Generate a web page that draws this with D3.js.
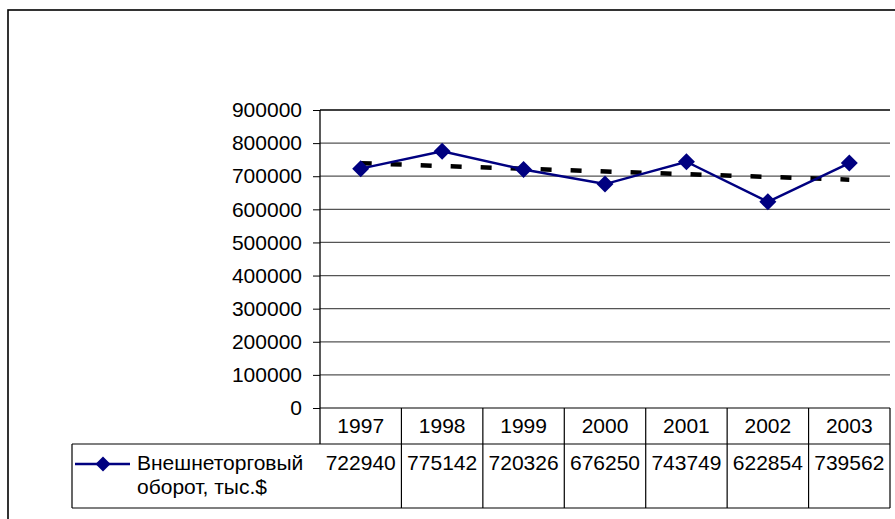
<!DOCTYPE html>
<html>
<head>
<meta charset="utf-8">
<script src="https://cdn.jsdelivr.net/npm/d3@7"></script>
<style>
  body { margin: 0; background: #fff; }
  svg text { font-family: Arial, "Liberation Sans", sans-serif; fill: #000; }
</style>
</head>
<body>
<svg id="chart" width="895" height="519"></svg>
<script>
// data
var years = ["1997", "1998", "1999", "2000", "2001", "2002", "2003"];
var values = [722940, 775142, 720326, 676250, 743749, 622854, 739562];
var seriesName = ["Внешнеторговый", "оборот, тыс.$"];
var yTicks = [0, 100000, 200000, 300000, 400000, 500000, 600000, 700000, 800000, 900000];
// linear trend, read at first and last year
var trend = [739200, 689600];

var svg = d3.select("#chart");
var fontSize = 21;

var plotLeft = 320, plotRight = 890, plotTop = 110, plotBottom = 408;
var rowH1 = 444, rowH2 = 508, legendLeft = 72;

var x = d3.scaleBand().domain(years).range([plotLeft, plotRight]);
var y = d3.scaleLinear().domain([0, 900000]).range([plotBottom, plotTop]);

// outer frame
svg.append("rect")
  .attr("x", 8).attr("y", 10)
  .attr("width", 920).attr("height", 540)
  .style("fill", "none").style("stroke", "#000").style("stroke-width", 1.6);

// gridlines
svg.append("g")
  .selectAll("line")
  .data(yTicks.slice(1))
  .enter().append("line")
    .attr("x1", plotLeft).attr("x2", plotRight)
    .attr("y1", function(d) { return y(d); })
    .attr("y2", function(d) { return y(d); })
    .style("stroke", function(d) { return d === 900000 ? "#000" : "#555"; })
    .style("stroke-width", function(d) { return d === 900000 ? 1.4 : 1.2; });

// y axis
var yAxis = svg.append("g")
  .attr("transform", "translate(" + plotLeft + ",0)")
  .call(d3.axisLeft(y).tickValues(yTicks).tickFormat(d3.format("d")).tickSize(7).tickPadding(11));
yAxis.select(".domain").attr("d", "M0," + y(900000) + "V" + rowH1).style("stroke", "#000").style("stroke-width", 1.3);
yAxis.selectAll(".tick line").style("stroke", "#000");
yAxis.selectAll(".tick text")
  .style("font-size", fontSize + "px")
  .style("font-family", "Arial, 'Liberation Sans', sans-serif")
  .attr("fill", "#000");

// data table
var table = svg.append("g").style("stroke", "#000").style("stroke-width", 1.2);
table.append("line").attr("x1", plotLeft).attr("x2", plotRight).attr("y1", plotBottom).attr("y2", plotBottom);
table.append("line").attr("x1", legendLeft).attr("x2", plotRight).attr("y1", rowH1).attr("y2", rowH1);
table.append("line").attr("x1", legendLeft).attr("x2", plotRight).attr("y1", rowH2).attr("y2", rowH2);
table.append("line").attr("x1", legendLeft).attr("x2", legendLeft).attr("y1", rowH1).attr("y2", rowH2);
table.selectAll(".col")
  .data(years)
  .enter().append("line")
    .attr("class", "col")
    .attr("x1", function(d) { return x(d) + x.bandwidth(); })
    .attr("x2", function(d) { return x(d) + x.bandwidth(); })
    .attr("y1", plotBottom).attr("y2", rowH2);

svg.selectAll(".yearLabel")
  .data(years)
  .enter().append("text")
    .attr("class", "yearLabel")
    .attr("x", function(d) { return x(d) + x.bandwidth() / 2; })
    .attr("y", 433)
    .attr("text-anchor", "middle")
    .style("font-size", fontSize + "px")
    .text(function(d) { return d; });

svg.selectAll(".valLabel")
  .data(values)
  .enter().append("text")
    .attr("class", "valLabel")
    .attr("x", function(d, i) { return x(years[i]) + x.bandwidth() / 2; })
    .attr("y", 470)
    .attr("text-anchor", "middle")
    .style("font-size", fontSize + "px")
    .text(function(d) { return d; });

// legend key
var navy = "#000080";
svg.append("line")
  .attr("x1", 75).attr("x2", 130).attr("y1", 464).attr("y2", 464)
  .style("stroke", navy).style("stroke-width", 2.5);
svg.append("path")
  .attr("d", "M103,456.5L110.5,464L103,471.5L95.5,464Z")
  .style("fill", navy);
svg.selectAll(".legText")
  .data(seriesName)
  .enter().append("text")
    .attr("class", "legText")
    .attr("x", 137)
    .attr("y", function(d, i) { return 470 + i * 24; })
    .style("font-size", fontSize + "px")
    .text(function(d) { return d; });

// trend line
svg.append("line")
  .attr("x1", x(years[0]) + x.bandwidth() / 2)
  .attr("x2", x(years[years.length - 1]) + x.bandwidth() / 2)
  .attr("y1", y(trend[0]))
  .attr("y2", y(trend[1]))
  .style("stroke", "#000")
  .style("stroke-width", 4.5)
  .style("stroke-dasharray", "11,19");

// series line
var line = d3.line()
  .x(function(d, i) { return x(years[i]) + x.bandwidth() / 2; })
  .y(function(d) { return y(d); });

svg.append("path")
  .datum(values)
  .attr("d", line)
  .style("fill", "none")
  .style("stroke", navy)
  .style("stroke-width", 2.5);

svg.selectAll(".marker")
  .data(values)
  .enter().append("path")
    .attr("class", "marker")
    .attr("transform", function(d, i) {
      return "translate(" + (x(years[i]) + x.bandwidth() / 2) + "," + y(d) + ")";
    })
    .attr("d", "M0,-8.5L8.5,0L0,8.5L-8.5,0Z")
    .style("fill", navy);
</script>
</body>
</html>
